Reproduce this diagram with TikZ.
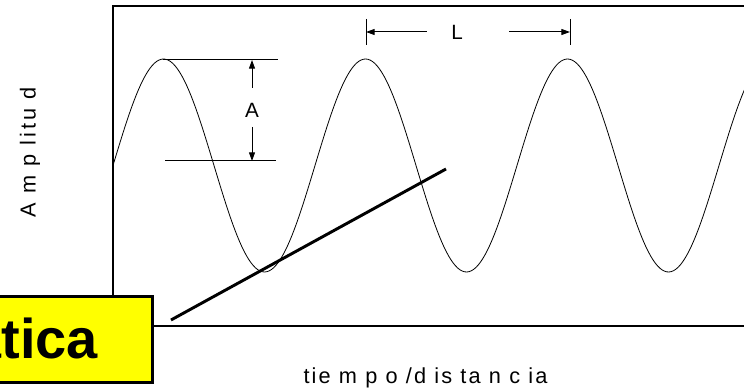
\documentclass[tikz,border=0pt]{standalone}
\usepackage{fontspec}
\setmainfont{Liberation Sans}
\usetikzlibrary{arrows.meta}
\definecolor{wvbanner}{HTML}{FFFF00}
\tikzset{
  wvframe/.style={line width=1.5pt},
  wvcurve/.style={line width=.6pt},
  wvguide/.style={line width=.75pt},
  wvslope/.style={line width=2.2pt},
  wvdim/.style={line width=.75pt,-{Triangle[length=6.5pt,width=4.5pt]}},
  wvlabel/.style={font=\fontsize{15.5}{18}\selectfont,inner sep=0pt},
  wvaxis/.style={font=\fontsize{16.3}{19}\selectfont},
}
\begin{document}
\begin{tikzpicture}[x=.75pt,y=-.75pt]
\useasboundingbox (0,0) rectangle (744,388);
% frame open to the right
\draw[wvframe] (800,6) -- (113,6) -- (113,326) -- (800,326);
\draw[wvcurve] plot[domain=113:800,samples=300] (\x,{165.5-106.5*sin((\x-113)/202*360)});
% amplitude
\coordinate (crestA) at (163,60);
\coordinate (crestB) at (278,60);
\coordinate (levelA) at (165,161);
\coordinate (levelB) at (276,161);
\coordinate (ampTop) at (252,60);
\coordinate (ampBot) at (252,161);
\draw[wvguide] (crestA) -- (crestB);
\draw[wvguide] (levelA) -- (levelB);
\node[wvlabel] (ampl) at (252,110.5) {A};
\draw[wvdim,shorten <=11.5pt] (ampl) -- (ampTop);
\draw[wvdim,shorten <=6.7pt] (ampl) -- (ampBot);
% wavelength
\coordinate (tickAa) at (366,19);
\coordinate (tickAb) at (366,45);
\coordinate (tickBa) at (570,19);
\coordinate (tickBb) at (570,45);
\coordinate (lenA) at (366,32);
\coordinate (lenB) at (570,32);
\draw[wvguide] (tickAa) -- (tickAb);
\draw[wvguide] (tickBa) -- (tickBb);
\node[wvlabel] (wavelen) at (457,32) {L};
\draw[wvdim,shorten <=18.2pt] (wavelen) -- (lenA);
\draw[wvdim,shorten <=34.7pt] (wavelen) -- (lenB);
% slanted line
\coordinate (slopeA) at (171,320);
\coordinate (slopeB) at (446,169);
\draw[wvslope] (slopeA) -- (slopeB);
% axis labels
\node[wvaxis,rotate=90] (ylab) at (30,152.5) {\addfontfeatures{LetterSpace=14}A m p litu d};
\node[wvaxis] (xlab) at (425.5,378) {\addfontfeatures{LetterSpace=10}tie m p o /d is ta n c ia};
% banner
\node[draw,fill=wvbanner,line width=2.2pt,anchor=north east,minimum width=150pt,minimum height=64.5pt] (banner) at (154,295) {};
\node[font=\fontsize{42}{48}\selectfont\bfseries,anchor=base west,inner sep=0pt] (bannerword) at (-30,359) {ática};
\end{tikzpicture}
\end{document}
